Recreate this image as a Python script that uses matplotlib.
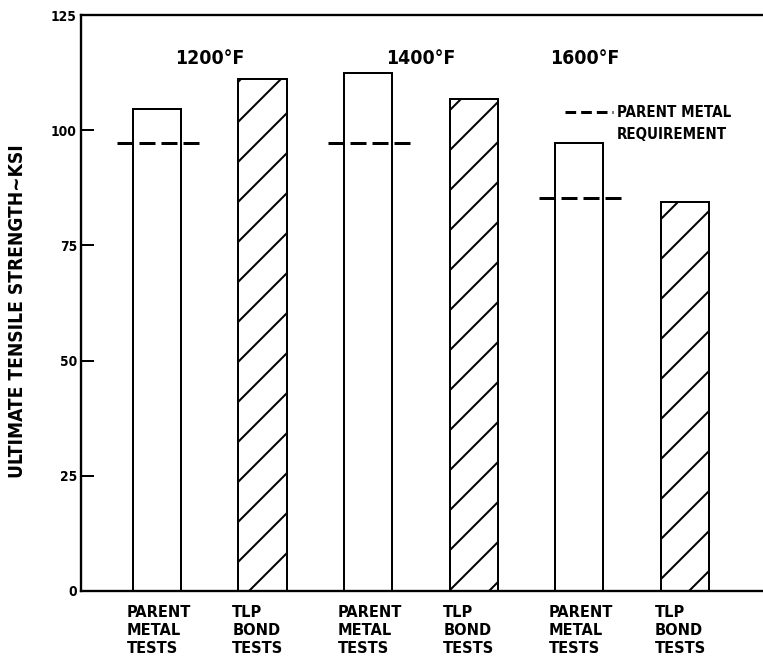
import numpy as np
import matplotlib
matplotlib.use('Agg')
import matplotlib.pyplot as plt

# values (ksi)
temps = ['1200°F', '1400°F', '1600°F']
test_labels = ['PARENT\nMETAL\nTESTS', 'TLP\nBOND\nTESTS']
parent_uts = [104.6, 112.4, 97.2]
tlp_uts = [111.1, 106.8, 84.4]
parent_req = [97.2, 97.3, 85.3]
yticks = [0, 25, 50, 75, 100, 125]

DPI = 240  # high dpi so the hatch is as wide-spaced as the scan
plt.rcParams['font.family'] = 'DejaVu Sans'
plt.rcParams['font.stretch'] = 'condensed'
plt.rcParams['hatch.linewidth'] = 0.6
plt.rcParams['lines.scale_dashes'] = False

fig = plt.figure(figsize=(763 / DPI, 668 / DPI), dpi=DPI)
ax = fig.add_axes([0.106, 0.1153, 0.894, 0.8622])

w = 0.455
pos_parent = np.arange(len(temps)) * 2
pos_tlp = pos_parent + 1

ax.bar(pos_parent, parent_uts, width=w, facecolor='white', edgecolor='black', linewidth=0.6)
ax.bar(pos_tlp, tlp_uts, width=w, facecolor='white', edgecolor='black', linewidth=0.6, hatch='//')

for p, r in zip(pos_parent, parent_req):
    ax.plot([p - 0.38, p + 0.42], [r, r], color='black', lw=0.9, linestyle=(0, (4.8, 1.8)), zorder=3)

# temperature headings
for i, t in enumerate(temps):
    xc = pos_parent[i] + 0.5
    if i == 2:
        xc -= 0.45  # pushed left of the legend in the original
    ax.text(xc, 0.925, t, transform=ax.get_xaxis_transform(), ha='center', va='center',
            fontsize=5.8, fontweight='bold')

# category labels under the bars
allpos = np.sort(np.concatenate([pos_parent, pos_tlp]))
for k, p in enumerate(allpos):
    ax.text(p - w / 2 - 0.06, -0.025, test_labels[k % 2], transform=ax.get_xaxis_transform(),
            ha='left', va='top', fontsize=4.9, fontweight='bold', linespacing=1.25)

# legend key
ax.plot([0.710, 0.780], [0.832, 0.832], transform=ax.transAxes, color='black', lw=0.9,
        linestyle=(0, (3.2, 1.5)), clip_on=False)
ax.text(0.786, 0.811, 'PARENT METAL\nREQUIREMENT', transform=ax.transAxes, ha='left', va='center',
        fontsize=4.5, fontweight='bold', linespacing=1.6)

ax.set_xlim(-0.72, 5.74)
ax.set_ylim(0, 125)
ax.set_xticks([])
ax.set_yticks(yticks)
ax.set_yticklabels([str(v) for v in yticks], fontsize=4.1, fontweight='bold')
ax.tick_params(axis='y', direction='in', length=3.8, width=0.6, pad=1.2)
ax.spines['right'].set_visible(False)
for s in ['left', 'bottom', 'top']:
    ax.spines[s].set_linewidth(0.7)

ax.set_ylabel('ULTIMATE TENSILE STRENGTH~KSI', fontsize=5.7, fontweight='bold')
ax.yaxis.set_label_coords(-0.079, 0.486)

fig.savefig('out.png', dpi=DPI)
